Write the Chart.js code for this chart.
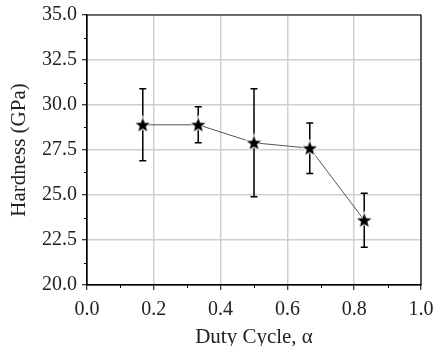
<!DOCTYPE html>
<html>
<head>
<meta charset="utf-8">
<script src="https://cdn.jsdelivr.net/npm/chart.js@4/dist/chart.umd.min.js"></script>
<style>
  html, body { margin: 0; padding: 0; background: #fff; }
  #wrap { width: 435px; height: 346px; }
</style>
</head>
<body>
<div id="wrap"><canvas id="chart" width="435" height="346"></canvas></div>
<script>
// Hardness vs duty cycle
const dutyCycle = [0.167, 0.333, 0.5, 0.667, 0.83];
const hardness = [28.9, 28.9, 27.9, 27.6, 23.6];
const errLow = [26.9, 27.9, 24.9, 26.2, 22.1];
const errHigh = [30.9, 29.9, 30.9, 29.0, 25.1];

const xTicks = [0.0, 0.2, 0.4, 0.6, 0.8, 1.0];
const xMinorTicks = [0.1, 0.3, 0.5, 0.7, 0.9];
const yTicks = [20.0, 22.5, 25.0, 27.5, 30.0, 32.5, 35.0];
const yMinorTicks = [21.25, 23.75, 26.25, 28.75, 31.25, 33.75];

const FONT = '"Liberation Serif", "Times New Roman", serif';

// filled black star with a thin white rim, used as the point marker
function makeStar(r) {
    const size = Math.ceil(r * 2 + 4);
    const c = document.createElement('canvas');
    c.width = size;
    c.height = size;
    const g = c.getContext('2d');
    const cx = size / 2, cy = size / 2 + 0.5;
    g.beginPath();
    for (let i = 0; i < 10; i++) {
        const rad = i % 2 === 0 ? r : r * 0.42;
        const a = -Math.PI / 2 + i * Math.PI / 5;
        const px = cx + rad * Math.cos(a);
        const py = cy + rad * Math.sin(a);
        if (i === 0) g.moveTo(px, py); else g.lineTo(px, py);
    }
    g.closePath();
    g.lineJoin = 'miter';
    g.lineWidth = 2;
    g.strokeStyle = '#fff';
    g.stroke();
    g.fillStyle = '#000';
    g.fill();
    return c;
}

// error bars, minor ticks and the top/right frame
const framePlugin = {
    id: 'framePlugin',
    beforeDatasetsDraw(chart) {
        const ctx = chart.ctx;
        const xs = chart.scales.x, ys = chart.scales.y;
        ctx.save();
        ctx.strokeStyle = '#000';
        ctx.lineWidth = 1.5;
        dutyCycle.forEach((d, i) => {
            const px = xs.getPixelForValue(d);
            const top = ys.getPixelForValue(errHigh[i]);
            const bot = ys.getPixelForValue(errLow[i]);
            ctx.beginPath();
            ctx.moveTo(px, top); ctx.lineTo(px, bot);
            ctx.moveTo(px - 3.5, top); ctx.lineTo(px + 3.5, top);
            ctx.moveTo(px - 3.5, bot); ctx.lineTo(px + 3.5, bot);
            ctx.stroke();
        });
        ctx.restore();
    },
    afterDraw(chart) {
        const ctx = chart.ctx;
        const a = chart.chartArea;
        const xs = chart.scales.x, ys = chart.scales.y;
        ctx.save();
        ctx.strokeStyle = '#000';
        ctx.lineWidth = 1.2;
        ctx.beginPath();
        ctx.rect(a.left, a.top, a.right - a.left, a.bottom - a.top);
        ctx.stroke();
        ctx.lineWidth = 1;
        ctx.beginPath();
        xMinorTicks.forEach(v => {
            const px = Math.round(xs.getPixelForValue(v)) + 0.5;
            ctx.moveTo(px, a.bottom); ctx.lineTo(px, a.bottom + 3);
        });
        yMinorTicks.forEach(v => {
            const py = Math.round(ys.getPixelForValue(v)) + 0.5;
            ctx.moveTo(a.left, py); ctx.lineTo(a.left - 3, py);
        });
        ctx.stroke();
        ctx.restore();
    }
};

new Chart(document.getElementById('chart'), {
    type: 'scatter',
    data: {
        datasets: [{
            data: dutyCycle.map((d, i) => ({ x: d, y: hardness[i] })),
            showLine: true,
            borderColor: '#555',
            borderWidth: 1,
            pointStyle: makeStar(7.5),
            pointRadius: 7,
            pointHoverRadius: 7
        }]
    },
    options: {
        responsive: false,
        animation: false,
        events: [],
        layout: { padding: { top: 15, right: 14, left: 0, bottom: 0 } },
        plugins: {
            legend: { display: false },
            tooltip: { enabled: false }
        },
        scales: {
            x: {
                type: 'linear',
                min: 0,
                max: 1,
                afterBuildTicks: s => { s.ticks = xTicks.map(v => ({ value: v })); },
                afterFit: s => {
                    s.height = 61;
                    s.paddingLeft = 0;
                    s.paddingRight = 0;
                },
                border: { color: '#000', width: 1.2 },
                grid: {
                    color: '#cfcfcf',
                    lineWidth: 1.5,
                    tickColor: '#000',
                    tickLength: 5,
                    tickWidth: 1
                },
                ticks: {
                    color: '#222',
                    font: { family: FONT, size: 20 },
                    padding: 8,
                    maxRotation: 0,
                    callback: v => v.toFixed(1)
                },
                title: {
                    display: true,
                    text: 'Duty Cycle, α',
                    color: '#222',
                    font: { family: FONT, size: 21 },
                    padding: { top: 0, bottom: -4 }
                }
            },
            y: {
                type: 'linear',
                min: 20,
                max: 35,
                afterBuildTicks: s => { s.ticks = yTicks.map(v => ({ value: v })); },
                afterFit: s => {
                    s.width = 87;
                    s.paddingTop = 0;
                    s.paddingBottom = 0;
                },
                border: { color: '#000', width: 1.2 },
                grid: {
                    color: '#cfcfcf',
                    lineWidth: 1.5,
                    tickColor: '#000',
                    tickLength: 5,
                    tickWidth: 1
                },
                ticks: {
                    color: '#222',
                    font: { family: FONT, size: 20 },
                    padding: 5,
                    callback: v => v.toFixed(1)
                },
                title: {
                    display: true,
                    text: 'Hardness (GPa)',
                    color: '#222',
                    font: { family: FONT, size: 21 },
                    padding: { top: 7, bottom: 0 }
                }
            }
        }
    },
    plugins: [framePlugin]
});
</script>
</body>
</html>
